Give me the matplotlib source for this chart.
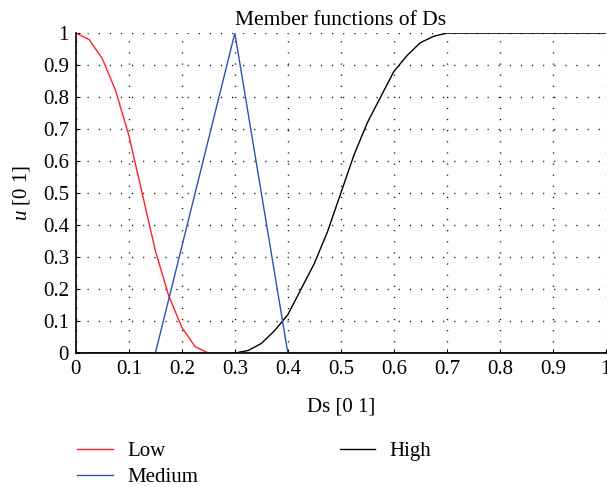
import matplotlib
matplotlib.use("Agg")
import matplotlib.pyplot as plt

# membership curves
low_x = [0, 0.025, 0.05, 0.075, 0.1, 0.125, 0.15, 0.175, 0.2, 0.225, 0.25, 1.0]
low_y = [1, 0.98, 0.92, 0.82, 0.68, 0.5, 0.32, 0.18, 0.08, 0.02, 0, 0]

med_x = [0, 0.15, 0.3, 0.4, 1.0]
med_y = [0, 0, 1, 0, 0]

high_x = [0, 0.3, 0.325, 0.35, 0.375, 0.4, 0.425, 0.45, 0.475, 0.5, 0.525,
          0.55, 0.575, 0.6, 0.625, 0.65, 0.675, 0.7, 1.0]
high_y = [0, 0, 0.008, 0.03, 0.07, 0.12, 0.2, 0.28, 0.38, 0.5, 0.62,
          0.72, 0.8, 0.88, 0.93, 0.97, 0.99, 1, 1]

ticks = [0, 0.1, 0.2, 0.3, 0.4, 0.5, 0.6, 0.7, 0.8, 0.9, 1]
tick_labels = ["0", "0.1", "0.2", "0.3", "0.4", "0.5", "0.6", "0.7", "0.8", "0.9", "1"]

plt.rcParams["font.family"] = ["Liberation Serif", "DejaVu Serif"]
plt.rcParams["font.size"] = 15
plt.rcParams["mathtext.fontset"] = "custom"
plt.rcParams["mathtext.rm"] = "Liberation Serif"
plt.rcParams["mathtext.it"] = "Liberation Serif:italic"

fig = plt.figure(figsize=(6.07, 4.87), dpi=100)
ax = fig.add_axes([0.125, 0.275, 0.873, 0.657])

ax.plot(high_x, high_y, color="black", lw=1.0, label="High")
ax.plot(low_x, low_y, color="#ff2020", lw=1.0, label="Low")
ax.plot(med_x, med_y, color="#3050b8", lw=1.0, label="Medium")

ax.set_xlim(0, 1)
ax.set_ylim(0, 1)
ax.set_xticks(ticks)
ax.set_xticklabels(tick_labels)
ax.set_yticks(ticks)
ax.set_yticklabels(tick_labels)
ax.tick_params(direction="in", length=3, width=0.8, pad=5)
ax.grid(True, color="black", linestyle=(0, (0.8, 7.2)), linewidth=1.0)
ax.spines["top"].set_visible(False)
ax.spines["right"].set_visible(False)
ax.spines["left"].set_linewidth(1.2)
ax.spines["bottom"].set_linewidth(1.2)

ax.set_title("Member functions of Ds", fontsize=15.5, pad=5.5)
ax.set_xlabel("Ds [0 1]", labelpad=13)
ax.set_ylabel("$u$ [0 1]", labelpad=8)

handles, labels = ax.get_legend_handles_labels()
order = [1, 2, 0]
fig.legend([handles[i] for i in order], [labels[i] for i in order],
           loc="upper left", bbox_to_anchor=(0.127, 0.093), ncol=2,
           frameon=False, handlelength=1.7, handletextpad=0.7,
           columnspacing=6.8, labelspacing=0.3, borderpad=0, borderaxespad=0)

plt.savefig("out.png", dpi=100)
